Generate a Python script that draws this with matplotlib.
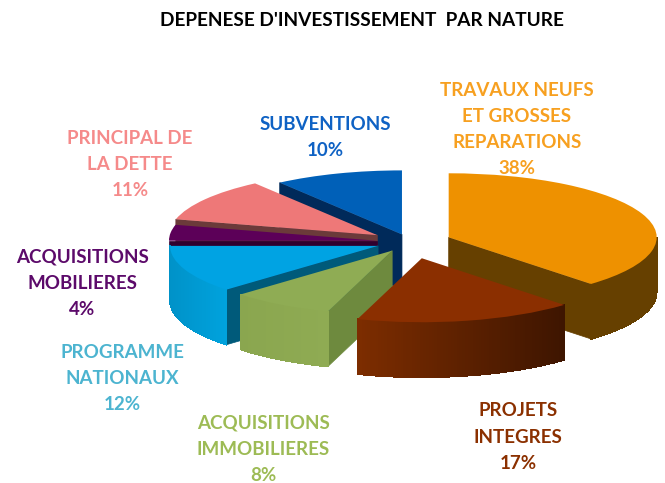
import numpy as np
import matplotlib
matplotlib.use("Agg")
import matplotlib.pyplot as plt
from matplotlib.patches import Polygon
from matplotlib.colors import to_rgb

title = "DEPENESE D'INVESTISSEMENT  PAR NATURE"
names = ["TRAVAUX NEUFS\nET GROSSES\nREPARATIONS", "PROJETS\nINTEGRES", "ACQUISITIONS\nIMMOBILIERES",
         "PROGRAMME\nNATIONAUX", "ACQUISITIONS\nMOBILIERES", "PRINCIPAL DE\nLA DETTE", "SUBVENTIONS"]
values = [38, 17, 8, 12, 4, 11, 10]

W, H = 665, 483
# pixel geometry of the fake 3d pie
cx, cy, rx, ry, depth_px = 410, 242, 208, 64, 55
depth = depth_px / ry
explode = [0.20, 0.26, 0.16, 0.165, 0.16, 0.19, 0.125]

top_cols = ["#ee9100", "#8b2f00", "#8fac54", "#00a3e3", "#5c0058", "#ee7878", "#0060b8"]
radial_cols = ["#664000", "#5a2000", "#6e8a3e", "#005a7a", "#30002e", "#6b3a3a", "#002a5a"]
arc_left = ["#664000", "#7d2d00", "#8aa64f", "#0092c8", "#30002e", "#6b3a3a", "#002a5a"]
arc_right = ["#664000", "#3e1500", "#8fab53", "#00a2dd", "#30002e", "#6b3a3a", "#002a5a"]
text_cols = ["#f7a020", "#8b3000", "#9dbb55", "#4cb4d0", "#5c0a6a", "#f58a8a", "#0f62c4"]

# centre x and first line y of each label block, in pixels
label_pos = [(517, 90), (518, 411), (263, 423), (122, 352), (82, 257), (130, 138), (325, 124)]
line_gap = 26.2
# back slices first
draw_order = [6, 5, 4, 3, 2, 0, 1]

fig = plt.figure(figsize=(W / 100, H / 100), dpi=100)
ax = fig.add_axes([0, 0, 1, 1])
wedges, _ = ax.pie(values, explode=explode, startangle=90, counterclock=False, colors=top_cols,
                   wedgeprops=dict(linewidth=0))
ax.set_aspect("auto")
ax.set_xlim(-cx / rx, (W - cx) / rx)
ax.set_ylim((cy - H) / ry, cy / ry)
ax.axis("off")


def add_wall(p1, p2, color, z, aa=True):
    pts = [p1, p2, (p2[0], p2[1] - depth), (p1[0], p1[1] - depth)]
    ax.add_patch(Polygon(pts, closed=True, facecolor=color, edgecolor=color, linewidth=0.5,
                         antialiased=aa, zorder=z))


z = 1
for i in draw_order:
    w = wedges[i]
    x0, y0 = w.center
    t1, t2 = np.radians(w.theta1), np.radians(w.theta2)

    # flat walls along the two cuts, only those facing the viewer
    if -np.cos(t1) < -1e-6:
        add_wall((x0, y0), (x0 + np.cos(t1), y0 + np.sin(t1)), radial_cols[i], z)
    if np.cos(t2) < -1e-6:
        add_wall((x0, y0), (x0 + np.cos(t2), y0 + np.sin(t2)), radial_cols[i], z)
    z += 1

    # outer wall in thin strips, shaded from left to right
    ts = np.linspace(t1, t2, 80)
    xs = x0 + np.cos(ts)
    ys = y0 + np.sin(ts)
    left, right = np.array(to_rgb(arc_left[i])), np.array(to_rgb(arc_right[i]))
    xmin, xmax = xs.min(), xs.max()
    for k in range(len(ts) - 1):
        if np.sin((ts[k] + ts[k + 1]) / 2) >= 0:
            continue
        f = ((xs[k] + xs[k + 1]) / 2 - xmin) / (xmax - xmin)
        add_wall((xs[k], ys[k]), (xs[k + 1], ys[k + 1]), tuple(left + (right - left) * f), z, aa=False)
    z += 1

    w.set_zorder(z)
    z += 1

font = ["Lato", "Liberation Sans"]
fig.text(362 / W, 1 - 20 / H, title, ha="center", va="center", fontsize=13.7, fontweight="bold",
         family=font, color="black")

for name, val, col, (px, py) in zip(names, values, text_cols, label_pos):
    lines = name.split("\n") + [str(val) + "%"]
    for n, line in enumerate(lines):
        fig.text(px / W, 1 - (py + n * line_gap) / H, line, ha="center", va="center", fontsize=13.5,
                 fontweight="bold", family=font, color=col)

fig.savefig("out.png", dpi=100)
